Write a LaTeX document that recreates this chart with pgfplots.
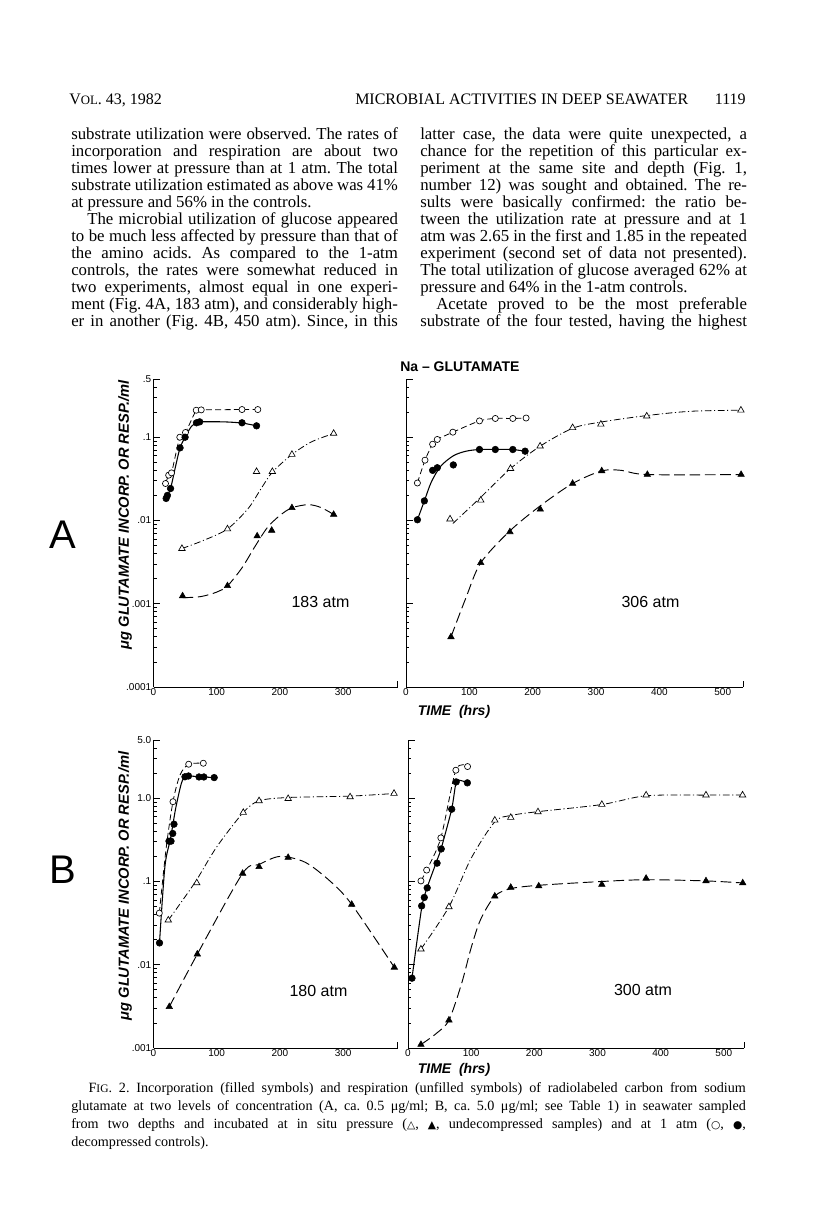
\documentclass[border=0pt]{standalone}
\usepackage{fontspec}
\setmainfont{Liberation Serif}
\setsansfont{Liberation Sans}
\newfontfamily\symfont{DejaVu Sans}
\usepackage{pgfplots}
\pgfplotsset{compat=1.18}
\frenchspacing
\newlength\colw
\setlength\colw{245pt}
\newcommand\J[1]{\hbox to \colw{#1}}
\newcommand\JL[1]{\hbox to \colw{#1\hfil}}
\newlength\capw
\setlength\capw{506pt}
\newcommand\C[1]{\hbox to \capw{#1}}
\newcommand\CL[1]{\hbox to \capw{#1\hfil}}

\pgfplotsset{
  ocl/.style={no marks, smooth, line width=0.6pt, dash pattern=on 4.5pt off 2.5pt},
  fcl/.style={no marks, smooth, line width=0.8pt},
  otl/.style={no marks, smooth, line width=0.6pt, dash pattern=on 5pt off 2pt on 0.8pt off 2pt},
  ftl/.style={no marks, smooth, line width=0.7pt, dash pattern=on 8pt off 3.5pt},
  ocm/.style={only marks, mark=*, mark size=2.3pt, mark options={solid, fill=white, draw=black, line width=0.5pt}},
  fcm/.style={only marks, mark=*, mark size=2.5pt, mark options={solid, fill=black, draw=black}},
  otm/.style={only marks, mark=triangle*, mark size=2.8pt, mark options={solid, fill=white, draw=black, line width=0.5pt}},
  ftm/.style={only marks, mark=triangle*, mark size=2.8pt, mark options={solid, fill=black, draw=black}},
}

\begin{document}
\begin{tikzpicture}
\begin{scope}[x=0.75pt,y=-0.75pt]
\fill[white] (0,0) rectangle (816,1211);
\path[use as bounding box] (0,0) rectangle (816,1211);
% header
\node[anchor=base west, inner sep=0, font=\fontsize{12}{12}\selectfont] at (69,104) {V{\fontsize{9.6}{10}\selectfont OL}. 43, 1982};
\node[anchor=base west, inner sep=0, font=\fontsize{12}{12}\selectfont] at (355,104) {MICROBIAL ACTIVITIES IN DEEP SEAWATER};
\node[anchor=base east, inner sep=0, font=\fontsize{12}{12}\selectfont] at (746,104) {1119};
% body left
\node[anchor=base west, inner sep=0, font=\fontsize{12.6}{14}\selectfont] at (71,139) {\vtop{\hsize=\colw \baselineskip=12.75pt \lineskiplimit=-30pt \lineskip=0pt
\J{substrate utilization were observed. The rates of}
\J{incorporation and respiration are about two}
\J{times lower at pressure than at 1 atm. The total}
\J{substrate utilization estimated as above was 41\%}
\JL{at pressure and 56\% in the controls.}
\J{\hskip 12pt The microbial utilization of glucose appeared}
\J{to be much less affected by pressure than that of}
\J{the amino acids. As compared to the 1-atm}
\J{controls, the rates were somewhat reduced in}
\J{two experiments, almost equal in one experi-}
\J{ment (Fig. 4A, 183 atm), and considerably high-}
\J{er in another (Fig. 4B, 450 atm). Since, in this}}};
% body right
\node[anchor=base west, inner sep=0, font=\fontsize{12.6}{14}\selectfont] at (420,139) {\vtop{\hsize=\colw \baselineskip=12.75pt \lineskiplimit=-30pt \lineskip=0pt
\J{latter case, the data were quite unexpected, a}
\J{chance for the repetition of this particular ex-}
\J{periment at the same site and depth (Fig. 1,}
\J{number 12) was sought and obtained. The re-}
\J{sults were basically confirmed: the ratio be-}
\J{tween the utilization rate at pressure and at 1}
\J{atm was 2.65 in the first and 1.85 in the repeated}
\J{experiment (second set of data not presented).}
\J{The total utilization of glucose averaged 62\% at}
\JL{pressure and 64\% in the 1-atm controls.}
\J{\hskip 12pt Acetate proved to be the most preferable}
\J{substrate of the four tested, having the highest}}};
% figure texts
\node[anchor=west, inner sep=0, font=\sffamily\bfseries\fontsize{10.5}{11}\selectfont] at (400,367) {Na -- GLUTAMATE};
\node[font=\sffamily\fontsize{30}{30}\selectfont] at (63,535) {A};
\node[font=\sffamily\fontsize{30}{30}\selectfont] at (63,870) {B};
\node[rotate=90, font=\sffamily\bfseries\itshape\fontsize{11}{12}\selectfont] at (125,515) {μg GLUTAMATE INCORP. OR RESP./ml};
\node[rotate=90, font=\sffamily\bfseries\itshape\fontsize{11}{12}\selectfont] at (125,886) {μg GLUTAMATE INCORP. OR RESP./ml};
\node[font=\sffamily\bfseries\itshape\fontsize{10.5}{11}\selectfont] at (454,712) {TIME\ \ (hrs)};
\node[font=\sffamily\bfseries\itshape\fontsize{10.5}{11}\selectfont] at (454,1070) {TIME\ \ (hrs)};
\node[font=\sffamily\fontsize{12}{12}\selectfont] at (320.5,602) {183 atm};
\node[font=\sffamily\fontsize{12}{12}\selectfont] at (650.5,602) {306 atm};
\node[font=\sffamily\fontsize{12}{12}\selectfont] at (318.5,991) {180 atm};
\node[font=\sffamily\fontsize{12}{12}\selectfont] at (643,990) {300 atm};
% caption
\node[anchor=base west, inner sep=0, font=\fontsize{10.6}{12}\selectfont] at (71,1092) {\vtop{\hsize=\capw \baselineskip=13.5pt \lineskiplimit=-30pt \lineskip=0pt
\C{\hskip 13pt F{\fontsize{8.6}{9}\selectfont IG}. 2. Incorporation (filled symbols) and respiration (unfilled symbols) of radiolabeled carbon from sodium}
\C{glutamate at two levels of concentration (A, ca. 0.5 μg/ml; B, ca. 5.0 μg/ml; see Table 1) in seawater sampled}
\C{from two depths and incubated at in situ pressure ({\symfont\fontsize{8}{9}\selectfont △}, {\symfont\fontsize{8}{9}\selectfont ▲}, undecompressed samples) and at 1 atm ({\symfont\fontsize{8}{9}\selectfont ○}, {\symfont\fontsize{8}{9}\selectfont ●},}
\CL{decompressed controls).}}};
\end{scope}

% ===== A left (183 atm)
\begin{axis}[at={(115.125pt,-515.25pt)}, anchor=south west,
  scale only axis, width=183pt, height=231pt,
  ymode=log, xmin=0, xmax=386, ymin=0.0001, ymax=0.5,
  axis x line=bottom, axis y line=left, axis line style={-, line width=0.7pt},
  tick align=inside, major tick length=5pt, minor tick length=2.5pt,
  xtick={0,100,200,300}, xticklabels={0,100,200,300},
  ytick={0.0001,0.001,0.01,0.1,0.5}, yticklabels={.0001,.001,.01,.1,.5},
  minor ytick={0.0002,0.0003,0.0004,0.0005,0.0006,0.0007,0.0008,0.0009,0.002,0.003,0.004,0.005,0.006,0.007,0.008,0.009,0.02,0.03,0.04,0.05,0.06,0.07,0.08,0.09,0.2,0.3,0.4},
  xtick style={draw=none}, ytick style={black, line width=0.6pt},
  tick label style={font=\sffamily\fontsize{7.5}{8}\selectfont},
  xticklabel style={inner sep=1pt}, yticklabel style={inner sep=1.5pt},
  clip=false]
\addplot[ocl] coordinates {(19,0.0278)(24,0.035)(28.5,0.0373)(41.6,0.1)(50.6,0.114)(67.6,0.211)(75.5,0.213)(140,0.215)(165,0.215)};
\addplot[ocm] coordinates {(19,0.0278)(24,0.035)(28.5,0.0373)(41.6,0.1)(50.6,0.114)(67.6,0.211)(75.5,0.213)(140,0.215)(165,0.215)};
\addplot[fcl] coordinates {(20,0.0184)(22,0.020)(27,0.0242)(35,0.045)(42,0.0745)(50,0.1)(60,0.135)(68,0.149)(73,0.153)(110,0.153)(140,0.148)(163,0.137)};
\addplot[fcm] coordinates {(20,0.0184)(22,0.020)(27,0.0242)(42,0.0745)(50,0.1)(68,0.149)(73,0.153)(140,0.149)(163,0.137)};
\addplot[otl] coordinates {(45,0.0046)(80,0.0058)(117,0.0079)(150,0.014)(170,0.024)(188,0.038)(219,0.062)(250,0.088)(285,0.111)};
\addplot[otm] coordinates {(45,0.0046)(117,0.0079)(163,0.0386)(188,0.0386)(219,0.062)(285,0.111)};
\addplot[ftl] coordinates {(46,0.00118)(75,0.00122)(100,0.00138)(117,0.00164)(140,0.0027)(160,0.0048)(180,0.0082)(200,0.0115)(219,0.0142)(245,0.0155)(265,0.0143)(285,0.0118)};
\addplot[ftm] coordinates {(46,0.00124)(117,0.00164)(164,0.0065)(187,0.0076)(219,0.0142)(285,0.0118)};
\draw[line width=0.6pt] (rel axis cs:1,0) -- (rel axis cs:1,0.02);
\end{axis}

% ===== A right (306 atm)
\begin{axis}[at={(304.5pt,-515.25pt)}, anchor=south west,
  scale only axis, width=252.75pt, height=231pt,
  ymode=log, xmin=0, xmax=532, ymin=0.0001, ymax=0.5,
  axis x line=bottom, axis y line=left, axis line style={-, line width=0.7pt},
  tick align=inside, major tick length=5pt, minor tick length=2.5pt,
  xtick={0,100,200,300,400,500}, xticklabels={0,100,200,300,400,500},
  ytick={0.0001,0.001,0.01,0.1,0.5}, yticklabels={},
  minor ytick={0.0002,0.0003,0.0004,0.0005,0.0006,0.0007,0.0008,0.0009,0.002,0.003,0.004,0.005,0.006,0.007,0.008,0.009,0.02,0.03,0.04,0.05,0.06,0.07,0.08,0.09,0.2,0.3,0.4},
  xtick style={draw=none}, ytick style={black, line width=0.6pt},
  tick label style={font=\sffamily\fontsize{7.5}{8}\selectfont},
  xticklabel style={inner sep=1pt},
  clip=false]
\addplot[ocl] coordinates {(18,0.0282)(30,0.053)(42,0.0824)(49.4,0.094)(74,0.115)(116,0.157)(141,0.168)(168.6,0.168)(189.6,0.17)};
\addplot[ocm] coordinates {(18,0.0282)(30,0.053)(42,0.0824)(49.4,0.094)(74,0.115)(116,0.157)(141,0.168)(168.6,0.168)(189.6,0.17)};
\addplot[fcl] coordinates {(18,0.0102)(29,0.0172)(40,0.029)(55,0.045)(75,0.06)(95,0.068)(116,0.0712)(141,0.0715)(168.6,0.071)(188,0.068)};
\addplot[fcm] coordinates {(18,0.0102)(29,0.0172)(42,0.040)(49.4,0.043)(74.7,0.0465)(116,0.0712)(141,0.0712)(168.6,0.0712)(188,0.068)};
\addplot[otl] coordinates {(74,0.0092)(118,0.019)(165,0.042)(211.7,0.078)(263,0.128)(307.6,0.152)(380,0.182)(450,0.205)(528.7,0.211)};
\addplot[otm] coordinates {(69.5,0.0104)(118,0.0175)(165,0.042)(211.7,0.078)(263,0.13)(307.6,0.143)(380,0.179)(528.7,0.211)};
\addplot[ftl] coordinates {(71,0.0004)(95,0.0012)(118,0.0031)(164,0.0075)(212,0.0150)(263,0.0278)(309,0.0394)(340,0.0400)(381,0.0356)(529,0.0356)};
\addplot[ftm] coordinates {(71,0.0004)(118,0.0031)(164,0.0073)(212,0.0136)(263,0.0278)(309,0.0394)(381,0.0356)(529,0.0356)};
\draw[line width=0.6pt] (rel axis cs:1,0) -- (rel axis cs:1,0.02);
\end{axis}

% ===== B left (180 atm)
\begin{axis}[at={(115.125pt,-786pt)}, anchor=south west,
  scale only axis, width=183pt, height=231pt,
  ymode=log, xmin=0, xmax=386, ymin=0.001, ymax=5,
  axis x line=bottom, axis y line=left, axis line style={-, line width=0.7pt},
  tick align=inside, major tick length=5pt, minor tick length=2.5pt,
  xtick={0,100,200,300}, xticklabels={0,100,200,300},
  ytick={0.001,0.01,0.1,1,5}, yticklabels={.001,.01,.1,1.0,5.0},
  minor ytick={0.002,0.003,0.004,0.005,0.006,0.007,0.008,0.009,0.02,0.03,0.04,0.05,0.06,0.07,0.08,0.09,0.2,0.3,0.4,0.5,0.6,0.7,0.8,0.9,2,3,4},
  xtick style={draw=none}, ytick style={black, line width=0.6pt},
  tick label style={font=\sffamily\fontsize{7.5}{8}\selectfont},
  xticklabel style={inner sep=1pt}, yticklabel style={inner sep=1.5pt},
  clip=false]
\addplot[ocl] coordinates {(9.2,0.0417)(20,0.25)(30.8,0.908)(42,1.9)(55.7,2.56)(78.8,2.63)};
\addplot[ocm] coordinates {(9.2,0.0417)(30.8,0.908)(55.7,2.56)(78.8,2.63)};
\addplot[fcl] coordinates {(9.5,0.0183)(18,0.15)(27,0.33)(35,0.75)(44,1.5)(49.8,1.81)(55.3,1.85)(79.7,1.80)(96,1.77)};
\addplot[fcm] coordinates {(9.5,0.0183)(24.5,0.305)(27.7,0.305)(30.4,0.377)(32.4,0.488)(49.8,1.81)(55.3,1.85)(72,1.80)(79.7,1.80)(96,1.77)};
\addplot[otl] coordinates {(23.4,0.0343)(45,0.058)(68.4,0.105)(100,0.26)(142,0.673)(167,0.93)(213,1.02)(311,1.06)(380.5,1.14)};
\addplot[otm] coordinates {(23.4,0.0343)(68.4,0.096)(142,0.673)(167,0.93)(213,0.988)(311,1.036)(380.5,1.14)};
\addplot[ftl] coordinates {(25,0.00313)(69.3,0.0134)(141,0.125)(167,0.16)(200,0.2)(240,0.17)(280,0.1)(313.6,0.053)(381,0.0093)};
\addplot[ftm] coordinates {(25,0.00313)(69.3,0.0134)(141,0.125)(167,0.150)(213,0.194)(313.6,0.053)(381,0.0093)};
\draw[line width=0.6pt] (rel axis cs:1,0) -- (rel axis cs:1,0.02);
\end{axis}

% ===== B right (300 atm)
\begin{axis}[at={(306pt,-786pt)}, anchor=south west,
  scale only axis, width=252pt, height=231pt,
  ymode=log, xmin=0, xmax=532, ymin=0.001, ymax=5,
  axis x line=bottom, axis y line=left, axis line style={-, line width=0.7pt},
  tick align=inside, major tick length=5pt, minor tick length=2.5pt,
  xtick={0,100,200,300,400,500}, xticklabels={0,100,200,300,400,500},
  ytick={0.001,0.01,0.1,1,5}, yticklabels={},
  minor ytick={0.002,0.003,0.004,0.005,0.006,0.007,0.008,0.009,0.02,0.03,0.04,0.05,0.06,0.07,0.08,0.09,0.2,0.3,0.4,0.5,0.6,0.7,0.8,0.9,2,3,4},
  xtick style={draw=none}, ytick style={black, line width=0.6pt},
  tick label style={font=\sffamily\fontsize{7.5}{8}\selectfont},
  xticklabel style={inner sep=1pt},
  clip=false]
\addplot[ocl] coordinates {(20.5,0.1016)(29.5,0.137)(52,0.334)(75.8,2.17)(94.3,2.40)};
\addplot[ocm] coordinates {(20.5,0.1016)(29.5,0.137)(52,0.334)(75.8,2.17)(94.3,2.40)};
\addplot[fcl, tension=0.4] coordinates {(6.3,0.0069)(21.6,0.048)(30.4,0.085)(46,0.18)(52.6,0.25)(69.2,0.74)(76.3,1.57)(85,1.62)(94,1.53)};
\addplot[fcm] coordinates {(6.3,0.0069)(21.6,0.0509)(25.8,0.0643)(30.4,0.0838)(46,0.166)(52.6,0.246)(69.2,0.738)(76.3,1.57)(94,1.53)};
\addplot[otl] coordinates {(20.5,0.0154)(64.8,0.0496)(100,0.19)(137.4,0.52)(162.7,0.62)(205.8,0.69)(306.9,0.84)(377,1.07)(471.8,1.09)(529.7,1.09)};
\addplot[otm] coordinates {(20.5,0.0154)(64.8,0.0496)(137.4,0.544)(162.7,0.586)(205.8,0.685)(306.9,0.84)(377,1.09)(471.8,1.09)(529.7,1.09)};
\addplot[ftl] coordinates {(20.5,0.0011)(45,0.0015)(64.8,0.00216)(85,0.006)(100,0.016)(115,0.035)(137.4,0.0666)(162.7,0.082)(207,0.09)(306.9,0.1)(377,0.105)(471.8,0.1016)(530,0.096)};
\addplot[ftm] coordinates {(20.5,0.0011)(64.8,0.00216)(137.4,0.0666)(162.7,0.0848)(207,0.088)(306.9,0.092)(377,0.109)(471.8,0.1016)(530,0.096)};
\draw[line width=0.6pt] (rel axis cs:1,0) -- (rel axis cs:1,0.02);
\end{axis}
\end{tikzpicture}
\end{document}
